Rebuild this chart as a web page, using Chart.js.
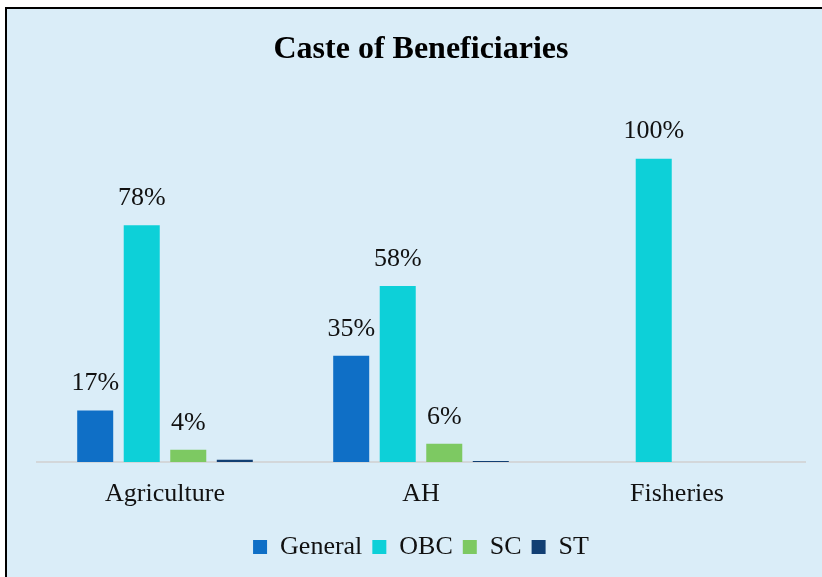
<!DOCTYPE html>
<html>
<head>
<meta charset="utf-8">
<script src="https://cdn.jsdelivr.net/npm/chart.js@4/dist/chart.umd.min.js"></script>
<style>
  html, body { margin: 0; padding: 0; background: #fff; overflow: hidden; }
  .frame {
    position: absolute; left: 5px; top: 7px;
    width: 815px; height: 568px;
    background: #DAEDF8;
    border-top: 2px solid #000; border-left: 2px solid #000;
  }
  .wrap { position: absolute; left: 0; top: 0; width: 822px; height: 577px; }
</style>
</head>
<body>
<div class="frame"></div>
<div class="wrap"><canvas id="chart" width="822" height="577"></canvas></div>
<script>
// ===== Caste of Beneficiaries =====
const categories = ['Agriculture', 'AH', 'Fisheries'];
const seriesNames = ['General', 'OBC', 'SC', 'ST'];
const generalVals = [17, 35, 0];
const obcVals     = [78, 58, 100];
const scVals      = [4, 6, 0];
const stVals      = [0.7, 0.3, 0];
const colors = ['#0F6FC6', '#0DD0D8', '#7DC962', '#123F73'];

const SERIF = "'Liberation Serif', 'Times New Roman', serif";

// value labels above bars (tiny ST slivers carry no label)
const valueLabels = {
  id: 'valueLabels',
  afterDatasetsDraw(chart) {
    const { ctx } = chart;
    ctx.save();
    ctx.font = `26px ${SERIF}`;
    ctx.fillStyle = '#111';
    ctx.textAlign = 'center';
    ctx.textBaseline = 'middle';
    chart.data.datasets.forEach((ds, di) => {
      const meta = chart.getDatasetMeta(di);
      ds.data.forEach((v, i) => {
        if (v < 1) return;
        const bar = meta.data[i];
        ctx.fillText(v + '%', bar.x, bar.y - 27);
      });
    });
    ctx.restore();
  },
};

const allVals = [generalVals, obcVals, scVals, stVals];

new Chart(document.getElementById('chart').getContext('2d'), {
  type: 'bar',
  data: {
    labels: categories,
    datasets: seriesNames.map((name, k) => ({
      label: name,
      data: allVals[k],
      backgroundColor: colors[k],
      borderWidth: 0,
      categoryPercentage: 0.727,
      barPercentage: 0.774,
    })),
  },
  options: {
    responsive: false,
    animation: false,
    layout: { padding: { left: 37, right: 17, top: 0, bottom: 7 } },
    scales: {
      x: {
        grid: { display: false, drawTicks: false },
        border: { display: true, color: '#D3D7DA', width: 2 },
        ticks: { color: '#111', padding: 17, font: { family: SERIF, size: 26 } },
        afterFit(scale) { scale.height = 62; },
      },
      y: { display: false, min: 0, max: 100 },
    },
    plugins: {
      title: {
        display: true,
        text: 'Caste of Beneficiaries',
        color: '#000',
        font: { family: SERIF, size: 32, weight: 'bold' },
        padding: { top: 31, bottom: 89 },
      },
      legend: {
        position: 'bottom',
        labels: {
          boxWidth: 14, boxHeight: 14, padding: 10,
          color: '#111',
          font: { family: SERIF, size: 26 },
        },
      },
      tooltip: { enabled: false },
    },
  },
  plugins: [valueLabels],
});
</script>
</body>
</html>
